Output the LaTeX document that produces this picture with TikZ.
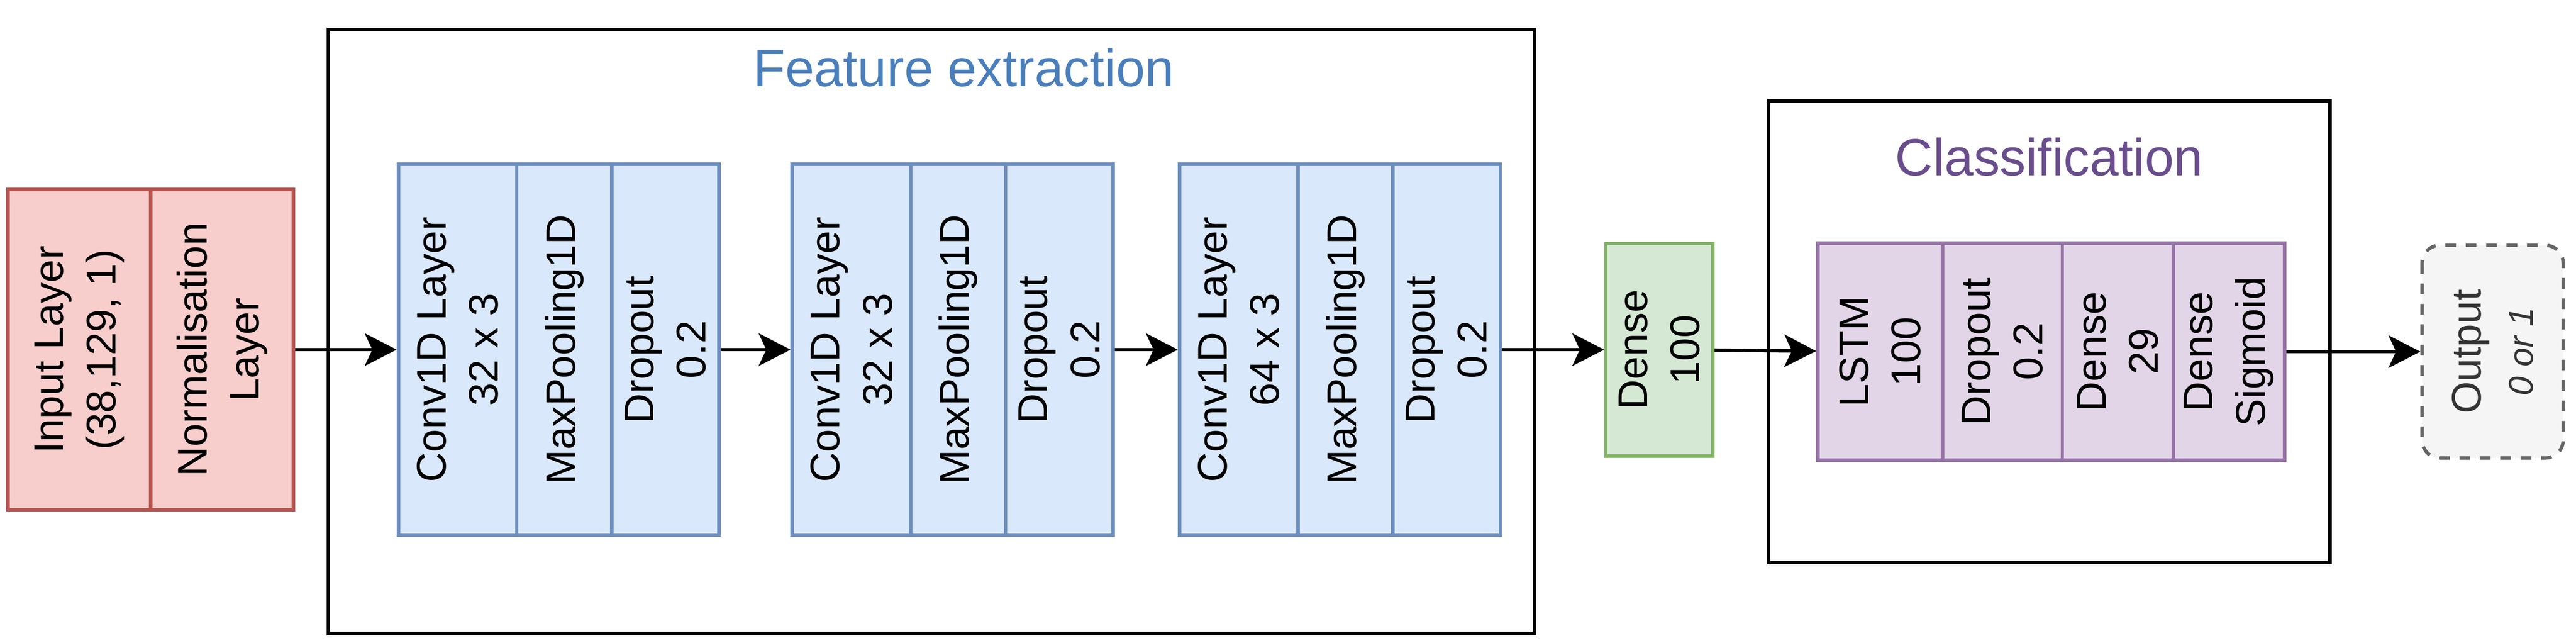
\documentclass[tikz,border=0pt]{standalone}
\usepackage{fontspec}
\setmainfont{Liberation Sans}
\usepackage{tikz}
\usetikzlibrary{positioning, arrows.meta}
\definecolor{redfill}{HTML}{F8CECC}
\definecolor{redline}{HTML}{B85450}
\definecolor{bluefill}{HTML}{DAE8FC}
\definecolor{blueline}{HTML}{6C8EBF}
\definecolor{greenfill}{HTML}{D5E8D4}
\definecolor{greenline}{HTML}{82B366}
\definecolor{purplefill}{HTML}{E1D5E7}
\definecolor{purpleline}{HTML}{9673A6}
\definecolor{grayfill}{HTML}{F5F5F5}
\definecolor{grayline}{HTML}{666666}
\definecolor{graytext}{HTML}{333333}
\definecolor{fetext}{HTML}{4A7EBB}
\definecolor{clstext}{HTML}{694D8C}
\tikzset{layer/.style = {draw, rotate=90, align=center, inner sep=0pt, line width=2.2pt, font=\fontsize{26.6}{33.5}\selectfont}}
\tikzset{inlayer/.style = {layer, fill=redfill, draw=redline, minimum width=7.21cm, minimum height=3.215cm}}
\tikzset{convlayer/.style = {layer, fill=bluefill, draw=blueline, minimum width=8.35cm}}
\tikzset{denselayer/.style = {layer, fill=greenfill, draw=greenline, minimum width=4.79cm, minimum height=2.41cm}}
\tikzset{lstmlayer/.style = {layer, fill=purplefill, draw=purpleline, minimum width=4.89cm}}
\tikzset{outlayer/.style = {layer, fill=grayfill, draw=grayline, text=graytext, dash pattern=on 0.24cm off 0.22cm, rounded corners=0.4cm, minimum width=4.79cm, minimum height=3.18cm}}
\tikzset{block/.style = {draw, line width=2.2pt}}
\tikzset{blocktitle/.style = {inner sep=0pt, font=\fontsize{33.5}{40}\selectfont}}

\begin{document}
\begin{tikzpicture}[>={Stealth[length=20.4pt, width=20.7pt, inset=4.8pt]}, on grid, line width=2.2pt]
  \useasboundingbox (0,0) rectangle (58.07,-14.48);
  \node [block, minimum width=27.19cm, minimum height=13.61cm] (fe) at (20.995,-7.465) {};
  \node [blocktitle, text=fetext] (fename) at ([shift={(0.73,-0.9)}]fe.north) {Feature extraction};
  \node [block, minimum width=12.65cm, minimum height=10.40cm] (cls) at (46.195,-7.47) {};
  \node [blocktitle, text=clstext] (clsname) at ([yshift=-1.305cm]cls.north) {Classification};

  \node [inlayer] (inp) at (1.79,-7.875) {Input Layer\\(38,129, 1)};
  \node [inlayer, right=3.215cm of inp] (norm) {Normalisation\\Layer};

  \node [convlayer, minimum height=2.67cm, right=5.31cm of norm] (conva) {Conv1D Layer\\32 x 3};
  \node [convlayer, minimum height=2.14cm, right=2.405cm of conva] (poola) {MaxPooling1D};
  \node [convlayer, minimum height=2.42cm, right=2.28cm of poola] (dropa) {Dropout\\0.2};
  \node [convlayer, minimum height=2.67cm, right=4.195cm of dropa] (convb) {Conv1D Layer\\32 x 3};
  \node [convlayer, minimum height=2.14cm, right=2.405cm of convb] (poolb) {MaxPooling1D};
  \node [convlayer, minimum height=2.42cm, right=2.28cm of poolb] (dropb) {Dropout\\0.2};
  \node [convlayer, minimum height=2.67cm, right=4.045cm of dropb] (convc) {Conv1D Layer\\64 x 3};
  \node [convlayer, minimum height=2.14cm, right=2.405cm of convc] (poolc) {MaxPooling1D};
  \node [convlayer, minimum height=2.42cm, right=2.28cm of poolc] (dropc) {Dropout\\0.2};

  \node [denselayer, right=4.795cm of dropc] (dense) {Dense\\100};

  \node [lstmlayer, minimum height=2.81cm, below right=0.045cm and 4.98cm of dense] (lstm) {LSTM\\100};
  \node [lstmlayer, minimum height=2.70cm, right=2.755cm of lstm] (dropd) {Dropout\\0.2};
  \node [lstmlayer, minimum height=2.50cm, right=2.60cm of dropd] (densea) {Dense\\29};
  \node [lstmlayer, minimum height=2.51cm, right=2.505cm of densea] (sig) {Dense\\Sigmoid};

  \node [outlayer, right=5.945cm of sig] (out) {Output\\{\fontsize{22}{33.5}\selectfont\itshape 0 or 1}};

  \draw [->] (norm) -- (conva);
  \draw [->] (dropa) -- (convb);
  \draw [->] (dropb) -- (convc);
  \draw [->] (dropc) -- (dense);
  \draw [->] (dense) -- (lstm);
  \draw [->] (sig) -- (out);
\end{tikzpicture}
\end{document}
